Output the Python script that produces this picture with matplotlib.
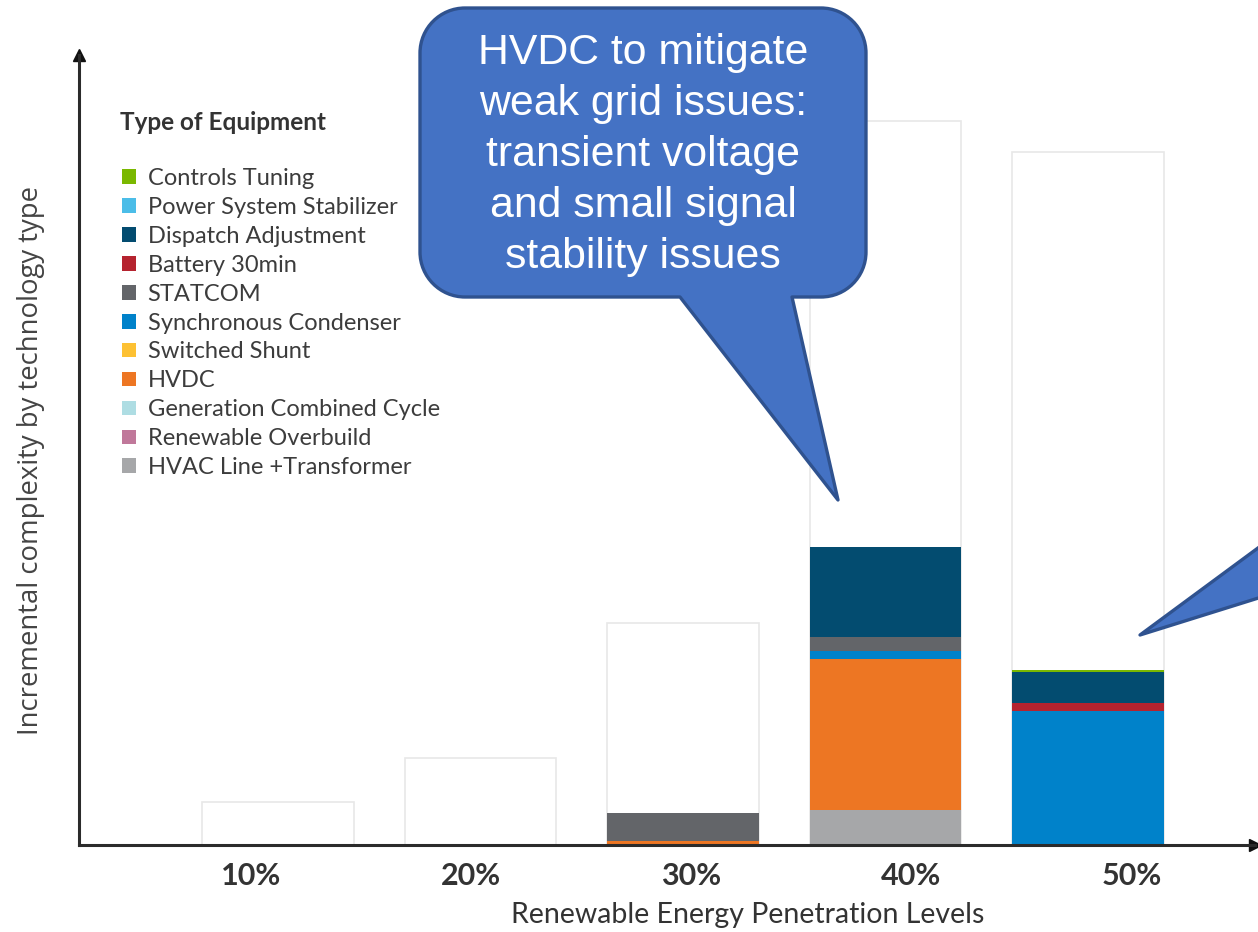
import matplotlib
matplotlib.use("Agg")
import matplotlib.pyplot as plt
from matplotlib.patches import Patch, PathPatch, Polygon
from matplotlib.path import Path

# penetration levels on the x axis
levels = ['10%', '20%', '30%', '40%', '50%']

# envelope (outlined) bar height per level
envelope = [5.9, 12.0, 30.7, 100.0, 95.7]

# equipment types, legend order (top of stack first)
equipment = ['Controls Tuning', 'Power System Stabilizer', 'Dispatch Adjustment',
             'Battery 30min', 'STATCOM', 'Synchronous Condenser', 'Switched Shunt',
             'HVDC', 'Generation Combined Cycle', 'Renewable Overbuild',
             'HVAC Line +Transformer']
colors = ['#7ab800', '#4bbde8', '#034c70', '#b5232f', '#636569', '#0082ca',
          '#fdc133', '#ed7623', '#aedde3', '#c0789a', '#a6a7a9']

# complexity contributed by each equipment type at each level
controls_tuning = [0, 0, 0, 0, 0.2]
pss             = [0, 0, 0, 0, 0]
dispatch        = [0, 0, 0, 12.4, 4.3]
battery         = [0, 0, 0, 0, 1.1]
statcom         = [0, 0, 3.9, 1.9, 0]
sync_condenser  = [0, 0, 0, 1.1, 18.5]
switched_shunt  = [0, 0, 0, 0, 0]
hvdc            = [0, 0, 0.5, 20.9, 0]
gen_cc          = [0, 0, 0, 0, 0]
renew_overbuild = [0, 0, 0, 0, 0]
hvac            = [0, 0, 0, 4.8, 0]

series = [controls_tuning, pss, dispatch, battery, statcom, sync_condenser,
          switched_shunt, hvdc, gen_cc, renew_overbuild, hvac]

W, H = 1258, 932
fig = plt.figure(figsize=(W / 100, H / 100), dpi=100)
fig.patch.set_facecolor('white')

def fx(x):
    return x / W

def fy(y):
    return 1 - y / H

ax = fig.add_axes([fx(79), fy(845), fx(1255) - fx(79), fy(55) - fy(845)])
x = list(range(len(levels)))
bw = 0.75

# outlined envelope bars
ax.bar(x, envelope, width=bw, facecolor='white', edgecolor='#e8e8e8', linewidth=1.2, zorder=1)

# stacked equipment bars, bottom of the stack is the last legend entry
bottom = [0.0] * len(levels)
for vals, col in zip(series[::-1], colors[::-1]):
    ax.bar(x, vals, width=bw, bottom=bottom, color=col, linewidth=0, zorder=2)
    bottom = [b + v for b, v in zip(bottom, vals)]

ax.set_xlim(-0.983, 4.825)
ax.set_ylim(0, 109.1)

for s in ['top', 'right']:
    ax.spines[s].set_visible(False)
for s in ['left', 'bottom']:
    ax.spines[s].set_linewidth(2.2)
    ax.spines[s].set_color('#2b2b2b')
    ax.spines[s].set_zorder(3)
ax.plot(1, 0, '>', color='#111111', markersize=9, transform=ax.transAxes, clip_on=False)
ax.plot(0, 1, '^', color='#111111', markersize=9, transform=ax.transAxes, clip_on=False)

# category labels sit on a slightly wider pitch than the bars
ax.set_yticks([])
ax.set_xticks([i * 1.087 - 0.133 for i in x])
ax.set_xticklabels(levels, fontsize=22, fontweight='bold', family='Lato', color='#333333')
ax.tick_params(axis='x', length=0, pad=12)

ax.set_xlabel('Renewable Energy Penetration Levels', fontsize=20.5, family='Lato', color='#333333')
ax.xaxis.label.set_va('center')
ax.xaxis.set_label_coords(0.569, -0.0886)
ax.set_ylabel('Incremental complexity by technology type', fontsize=19.8, family='Open Sans', color='#444444')
ax.yaxis.label.set_va('center')
ax.yaxis.set_label_coords(-0.041, 0.487)

# legend
fig.text(fx(120), fy(122), 'Type of Equipment', fontsize=17.5, fontweight='bold',
         family='Lato', color='#333333', va='center', ha='left')
handles = [Patch(facecolor=c, edgecolor='none', label=l) for c, l in zip(colors, equipment)]
fig.legend(handles=handles, loc='upper left', bbox_to_anchor=(fx(122), fy(168)),
           bbox_transform=fig.transFigure, frameon=False, borderpad=0, borderaxespad=0,
           handlelength=0.58, handleheight=0.58, handletextpad=0.5, labelspacing=0.335,
           prop={'family': 'Lato', 'size': 17}, labelcolor='#3c3c3c')

# callout shapes in pixel coordinates
face, edge = '#4472c4', '#2f528f'

def callout_path(x0, y0, x1, y1, r, bx0, bx1, tip):
    k = 0.5523 * r
    pts = [
        ((x0 + r, y0), Path.MOVETO),
        ((x1 - r, y0), Path.LINETO),
        ((x1 - r + k, y0), Path.CURVE4), ((x1, y0 + r - k), Path.CURVE4), ((x1, y0 + r), Path.CURVE4),
        ((x1, y1 - r), Path.LINETO),
        ((x1, y1 - r + k), Path.CURVE4), ((x1 - r + k, y1), Path.CURVE4), ((x1 - r, y1), Path.CURVE4),
        ((bx1, y1), Path.LINETO),
        (tip, Path.LINETO),
        ((bx0, y1), Path.LINETO),
        ((x0 + r, y1), Path.LINETO),
        ((x0 + r - k, y1), Path.CURVE4), ((x0, y1 - r + k), Path.CURVE4), ((x0, y1 - r), Path.CURVE4),
        ((x0, y0 + r), Path.LINETO),
        ((x0, y0 + r - k), Path.CURVE4), ((x0 + r - k, y0), Path.CURVE4), ((x0 + r, y0), Path.CURVE4),
        ((x0 + r, y0), Path.CLOSEPOLY),
    ]
    verts = [(fx(p[0]), fy(p[1])) for p, _ in pts]
    codes = [c for _, c in pts]
    return Path(verts, codes)

box = PathPatch(callout_path(420, 8, 866, 297, 45, 680, 792, (838, 500)),
                facecolor=face, edgecolor=edge, linewidth=2.4, joinstyle='round',
                transform=fig.transFigure, zorder=5)
fig.add_artist(box)
fig.text(fx(643), fy(155), 'HVDC to mitigate\nweak grid issues:\ntransient voltage\nand small signal\nstability issues',
         fontsize=30.8, family='Liberation Sans', color='white', ha='center', va='center',
         linespacing=1.36, zorder=6)

# second callout, only its pointer is in view
pointer = Polygon([(fx(1300), fy(517)), (fx(1140), fy(635)), (fx(1300), fy(585))],
                  closed=True, facecolor=face, edgecolor=edge, linewidth=2.4, joinstyle='round',
                  transform=fig.transFigure, zorder=5)
fig.add_artist(pointer)

plt.savefig('out.png', dpi=100)
